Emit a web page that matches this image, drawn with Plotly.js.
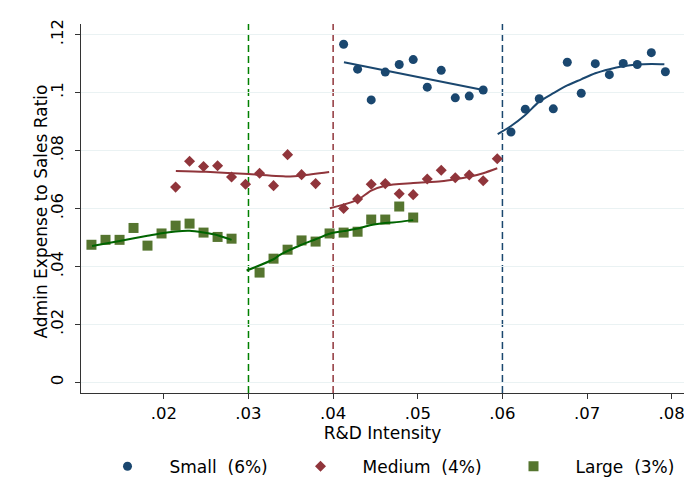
<!DOCTYPE html>
<html>
<head>
<meta charset="utf-8">
<script src="https://cdn.plot.ly/plotly-3.0.1.min.js"></script>
<style>
  html, body { margin: 0; padding: 0; background: #fff; }
  #chart { width: 684px; height: 502px; }
</style>
</head>
<body>
<div id="chart"></div>
<script>
// Binned means of admin expense / sales by R&D intensity, by firm size,
// with fitted curves on each side of the size-specific R&D thresholds.

// Small firms (threshold 6%)
const smallX = [0.04124, 0.04289, 0.04450, 0.04616, 0.04781, 0.04946, 0.05112, 0.05277, 0.05443, 0.05608, 0.05773,
                0.06101, 0.06270, 0.06435, 0.06601, 0.06766, 0.06931, 0.07097, 0.07263, 0.07427, 0.07593, 0.07759, 0.07925];
const smallY = [0.1167, 0.1081, 0.0975, 0.1071, 0.1097, 0.1114, 0.1019, 0.1077, 0.0982, 0.0988, 0.1009,
                0.0864, 0.0943, 0.0979, 0.0944, 0.1105, 0.0998, 0.1100, 0.1062, 0.1101, 0.1097, 0.1138, 0.1072];

// Medium firms (threshold 4%)
const mediumX = [0.02139, 0.02304, 0.02469, 0.02635, 0.02800, 0.02965, 0.03131, 0.03296, 0.03462, 0.03627, 0.03793,
                 0.04124, 0.04289, 0.04450, 0.04616, 0.04781, 0.04946, 0.05112, 0.05277, 0.05443, 0.05608, 0.05773, 0.05939];
const mediumY = [0.0674, 0.0763, 0.0745, 0.0748, 0.0709, 0.0684, 0.0722, 0.0679, 0.0786, 0.0717, 0.0686,
                 0.0600, 0.0633, 0.0684, 0.0686, 0.0651, 0.0648, 0.0702, 0.0732, 0.0706, 0.0716, 0.0696, 0.0772];

// Large firms (threshold 3%)
const largeX = [0.01145, 0.01311, 0.01477, 0.01642, 0.01807, 0.01973, 0.02139, 0.02304, 0.02469, 0.02635, 0.02800,
                0.03131, 0.03296, 0.03462, 0.03627, 0.03793, 0.03958, 0.04124, 0.04289, 0.04450, 0.04616, 0.04781, 0.04946];
const largeY = [0.0475, 0.0492, 0.0492, 0.0533, 0.0472, 0.0514, 0.0541, 0.0548, 0.0517, 0.0502, 0.0496,
                0.0379, 0.0427, 0.0458, 0.0490, 0.0486, 0.0514, 0.0517, 0.0520, 0.0562, 0.0562, 0.0607, 0.0569];

// Fitted curves, below and above each threshold
const smallFitLoX = [0.04128, 0.05773];
const smallFitLoY = [0.1105, 0.1009];
const smallFitHiX = [0.05944, 0.06101, 0.06270, 0.06435, 0.06601, 0.06766, 0.06931, 0.07097, 0.07263, 0.07427, 0.07593, 0.07759, 0.07913];
const smallFitHiY = [0.0857, 0.0885, 0.0923, 0.0969, 0.0998, 0.1025, 0.1046, 0.1067, 0.1081, 0.1091, 0.1097, 0.1099, 0.1098];

const mediumFitLoX = [0.02142, 0.02496, 0.02999, 0.03491, 0.03631, 0.03953];
const mediumFitLoY = [0.0730, 0.0727, 0.0719, 0.0711, 0.0714, 0.0726];
const mediumFitHiX = [0.03962, 0.04289, 0.04450, 0.04616, 0.04946, 0.05277, 0.05443, 0.05608, 0.05773, 0.05939];
const mediumFitHiY = [0.0601, 0.0630, 0.0662, 0.0679, 0.0688, 0.0694, 0.0701, 0.0710, 0.0722, 0.0739];

const largeFitLoX = [0.01152, 0.01477, 0.01807, 0.01973, 0.02139, 0.02304, 0.02469, 0.02635, 0.02800];
const largeFitLoY = [0.0471, 0.0488, 0.0506, 0.0515, 0.0521, 0.0523, 0.0517, 0.0508, 0.0492];
const largeFitHiX = [0.02978, 0.03296, 0.03371, 0.03627, 0.03793, 0.03958, 0.04124, 0.04289, 0.04450, 0.04616, 0.04781, 0.04946];
const largeFitHiY = [0.0386, 0.0425, 0.0440, 0.0475, 0.0494, 0.0513, 0.0522, 0.0531, 0.0543, 0.0550, 0.0554, 0.0560];

// Thresholds
const cutoffs = [0.06, 0.04, 0.03];

// Axis ticks
const xTickVals = [0.02, 0.03, 0.04, 0.05, 0.06, 0.07, 0.08];
const xTickText = ['.02', '.03', '.04', '.05', '.06', '.07', '.08'];
const yTickVals = [0, 0.02, 0.04, 0.06, 0.08, 0.10, 0.12];
const yTickText = ['0', '.02', '.04', '.06', '.08', '.1', '.12'];

const seriesNames = ['Small  (6%)', 'Medium  (4%)', 'Large  (3%)'];
const xTitle = 'R&D Intensity';
const yTitle = 'Admin Expense to Sales Ratio';

const NAVY = '#1a476f';
const MAROON = '#90353b';
const FOREST = '#55752f';
const DKGREEN = '#006400';
const GREEN = '#008000';
const FONT = 'DejaVu Sans, sans-serif';

const nb = s => s.replace(/ /g, '\u00a0');

const traces = [
  { x: smallX, y: smallY, name: nb(seriesNames[0]), type: 'scatter', mode: 'markers',
    marker: { symbol: 'circle', size: 9, color: NAVY, line: { width: 0 } }, legendwidth: 104 },
  { x: mediumX, y: mediumY, name: nb(seriesNames[1]), type: 'scatter', mode: 'markers',
    marker: { symbol: 'diamond', size: 8.5, color: MAROON, line: { width: 0 } }, legendwidth: 124 },
  { x: largeX, y: largeY, name: nb(seriesNames[2]), type: 'scatter', mode: 'markers',
    marker: { symbol: 'square', size: 10, color: FOREST, line: { width: 0 } }, legendwidth: 110 },
];

const fits = [
  [smallFitLoX, smallFitLoY, NAVY], [smallFitHiX, smallFitHiY, NAVY],
  [mediumFitLoX, mediumFitLoY, MAROON], [mediumFitHiX, mediumFitHiY, MAROON],
  [largeFitLoX, largeFitLoY, DKGREEN], [largeFitHiX, largeFitHiY, DKGREEN],
];
fits.forEach(([fx, fy, c]) => traces.push({
  x: fx, y: fy, type: 'scatter', mode: 'lines', showlegend: false, hoverinfo: 'skip',
  line: { color: c, width: 2, shape: 'spline', smoothing: 0.8 }
}));

const cutColors = [NAVY, MAROON, GREEN];
const shapes = cutoffs.map((c, i) => ({
  type: 'line', xref: 'x', yref: 'paper', x0: c, x1: c, y0: 0, y1: 1, layer: 'between',
  line: { color: cutColors[i], width: 1.5, dash: '7px,4px' }
}));

const layout = {
  width: 684, height: 502,
  margin: { l: 81, r: 0, t: 24, b: 109 },
  paper_bgcolor: '#ffffff', plot_bgcolor: '#ffffff',
  font: { family: FONT, size: 17, color: '#000000' },
  showlegend: true,
  legend: {
    orientation: 'h', xref: 'container', yref: 'container',
    x: 0.125, xanchor: 'left', y: 0.0703, yanchor: 'middle',
    itemwidth: 74, font: { family: FONT, size: 17, color: '#000000' },
    bgcolor: 'rgba(0,0,0,0)', borderwidth: 0
  },
  xaxis: {
    range: [0.010215, 0.08145], tickmode: 'array', tickvals: xTickVals, ticktext: xTickText,
    showgrid: false, zeroline: false, showline: true, linecolor: '#333333', linewidth: 1,
    ticks: 'outside', ticklen: 5, tickcolor: '#333333', tickwidth: 1,
    ticklabeloverflow: 'allow',
    tickfont: { family: FONT, size: 16.5, color: '#000000' },
    title: { text: xTitle, font: { family: FONT, size: 17, color: '#000000' }, standoff: 2 }
  },
  yaxis: {
    range: [-0.00366, 0.12369], tickmode: 'array', tickvals: yTickVals, ticktext: yTickText,
    showgrid: true, gridcolor: '#eaf2f3', gridwidth: 1.5, zeroline: false,
    showline: true, linecolor: '#333333', linewidth: 1,
    ticks: 'outside', ticklen: 5, tickcolor: '#333333', tickwidth: 1, tickangle: -90,
    ticklabelstandoff: 5,
    tickfont: { family: FONT, size: 16.5, color: '#000000' }
  },
  annotations: [{
    text: yTitle, xref: 'paper', yref: 'paper', x: -0.0663, y: 0.492,
    xanchor: 'center', yanchor: 'middle', textangle: -90, showarrow: false,
    font: { family: FONT, size: 17, color: '#000000' }
  }],
  shapes: shapes
};

Plotly.newPlot('chart', traces, layout, { displayModeBar: false, staticPlot: true });
</script>
</body>
</html>
